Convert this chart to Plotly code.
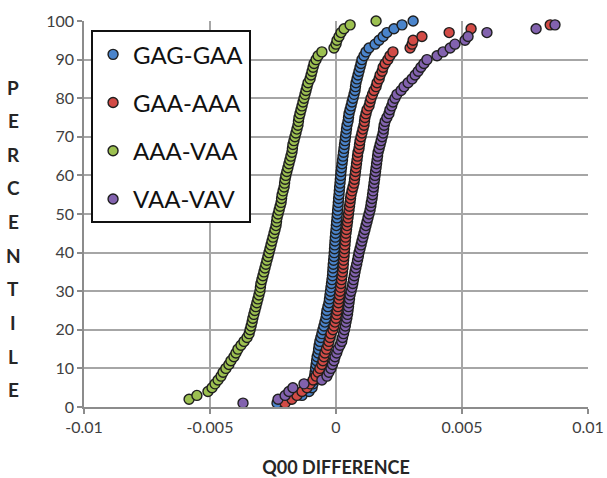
import plotly.graph_objects as go

# Q00 difference at each percentile rank, one list per pair
gag_gaa = [-0.00234, -0.00183, -0.00135, -0.00107, -0.00095, -0.00091, -0.00087, -0.00085, -0.00083, -0.00081,
           -0.00079, -0.00077, -0.00075, -0.00071, -0.00069, -0.00067, -0.00064, -0.00060, -0.00056, -0.00052,
           -0.00048, -0.00044, -0.00040, -0.00038, -0.00036, -0.00032, -0.00028, -0.00026, -0.00024, -0.00022,
           -0.00020, -0.00018, -0.00016, -0.00014, -0.00013, -0.00012, -0.00011, -0.000095, -0.00008, -0.00007,
           -0.00006, -0.00005, -0.00004, -0.000028, -0.000016, 0.0, 0.000012, 0.000024, 0.00004, 0.000052,
           0.000064, 0.00008, 0.000091, 0.000103, 0.000119, 0.000131, 0.000143, 0.000159, 0.000171, 0.000187,
           0.000199, 0.000218, 0.000238, 0.000258, 0.000278, 0.000298, 0.000318, 0.000337, 0.000357, 0.000377,
           0.000397, 0.000417, 0.000437, 0.000476, 0.000496, 0.000516, 0.000556, 0.000596, 0.000635, 0.000675,
           0.000715, 0.000754, 0.000774, 0.000794, 0.000834, 0.000873, 0.000913, 0.000953, 0.000993, 0.00103,
           0.00111, 0.00119, 0.00131, 0.00155, 0.00171, 0.00187, 0.00202, 0.00230, 0.00262, 0.00306]

gaa_aaa = [-0.00202, -0.00175, -0.00155, -0.00135, -0.00115, -0.00103, -0.00091, -0.00079, -0.00071, -0.00064,
           -0.00056, -0.00052, -0.00048, -0.00044, -0.00038, -0.00032, -0.00028, -0.00024, -0.00020, -0.00012,
           -0.00008, -0.00004, 0.0, 0.000028, 0.000052, 0.000079, 0.000099, 0.000119, 0.000139, 0.000159,
           0.000179, 0.000199, 0.000218, 0.000238, 0.000258, 0.000278, 0.00029, 0.000302, 0.000318, 0.00033,
           0.000341, 0.000357, 0.000369, 0.000381, 0.000397, 0.000417, 0.000437, 0.000457, 0.000476, 0.000496,
           0.000516, 0.000536, 0.000556, 0.000576, 0.000596, 0.000635, 0.000675, 0.000715, 0.000734, 0.000754,
           0.000774, 0.000794, 0.000814, 0.000834, 0.000854, 0.000873, 0.000913, 0.000933, 0.000953, 0.000993,
           0.00103, 0.00107, 0.00111, 0.00113, 0.00115, 0.00119, 0.00123, 0.00131, 0.00135, 0.00139,
           0.00145, 0.00151, 0.00159, 0.00163, 0.00171, 0.00175, 0.00183, 0.00187, 0.00195, 0.00206,
           0.00214, 0.00226, 0.00294, 0.00302, 0.00306, 0.00341, 0.00449, 0.00536, 0.00850]

aaa_vaa = [-0.00583, -0.00552, -0.00508, -0.00492, -0.00480, -0.00468, -0.00456, -0.00448, -0.00437, -0.00425,
           -0.00417, -0.00405, -0.00397, -0.00389, -0.00377, -0.00365, -0.00353, -0.00345, -0.00341, -0.00337,
           -0.00333, -0.00330, -0.00326, -0.00322, -0.00318, -0.00314, -0.00310, -0.00306, -0.00302, -0.00300,
           -0.00298, -0.00294, -0.00290, -0.00286, -0.00282, -0.00278, -0.00274, -0.00270, -0.00266, -0.00262,
           -0.00258, -0.00254, -0.00250, -0.00246, -0.00242, -0.00238, -0.00236, -0.00234, -0.00230, -0.00226,
           -0.00222, -0.00218, -0.00216, -0.00214, -0.00210, -0.00206, -0.00204, -0.00202, -0.00199, -0.00195,
           -0.00191, -0.00187, -0.00183, -0.00179, -0.00175, -0.00173, -0.00171, -0.00167, -0.00163, -0.00159,
           -0.00155, -0.00151, -0.00149, -0.00147, -0.00143, -0.00139, -0.00135, -0.00131, -0.00127, -0.00123,
           -0.00119, -0.00115, -0.00111, -0.00103, -0.00099, -0.00095, -0.00091, -0.00087, -0.00079, -0.00071,
           -0.00056, -0.00008, 0.00000, 0.00004, 0.00012, 0.00020, 0.00032, 0.00056, 0.00159]

vaa_vav = [-0.00369, -0.00230, -0.00202, -0.00187, -0.00171, -0.00127, -0.00056, -0.00036, -0.00028, -0.00020,
           -0.00014, -0.00008, -0.00004, 0.000028, 0.000079, 0.000159, 0.000226, 0.000258, 0.000298, 0.000337,
           0.000369, 0.000397, 0.000429, 0.000457, 0.000476, 0.000496, 0.000516, 0.000536, 0.000556, 0.000596,
           0.000635, 0.000667, 0.000695, 0.000727, 0.000754, 0.000786, 0.000822, 0.000854, 0.000885, 0.000913,
           0.000953, 0.000993, 0.00103, 0.00107, 0.00111, 0.00115, 0.00119, 0.00123, 0.00127, 0.00131,
           0.00135, 0.00138, 0.00140, 0.00143, 0.00145, 0.00147, 0.00149, 0.00151, 0.00153, 0.00155,
           0.00157, 0.00159, 0.00161, 0.00163, 0.00165, 0.00167, 0.00171, 0.00175, 0.00179, 0.00183,
           0.00187, 0.00189, 0.00191, 0.00195, 0.00202, 0.00210, 0.00214, 0.00221, 0.00226, 0.00234,
           0.00242, 0.00258, 0.00270, 0.00286, 0.00302, 0.00314, 0.00326, 0.00337, 0.00349, 0.00361,
           0.00401, 0.00425, 0.00453, 0.00472, 0.00512, 0.00524, 0.00599, 0.00794, 0.00869]

# first percentile rank of each list (ranks step by one)
series = [
    ("GAG-GAA", gag_gaa, 1, "#4A84CB"),
    ("GAA-AAA", gaa_aaa, 1, "#D24B46"),
    ("AAA-VAA", aaa_vaa, 2, "#9CC050"),
    ("VAA-VAV", vaa_vav, 1, "#8262AE"),
]

x_ticks = [-0.01, -0.005, 0, 0.005, 0.01]
x_tick_labels = ["-0.01", "-0.005", "0", "0.005", "0.01"]
y_ticks = [0, 10, 20, 30, 40, 50, 60, 70, 80, 90, 100]
y_title = "PERCENTILE"

FONT = "Lato, 'Open Sans', Arial, sans-serif"

fig = go.Figure()
for i, (name, xs, first, color) in enumerate(series):
    fig.add_trace(go.Scatter(
        x=xs,
        y=list(range(first, first + len(xs))),
        mode="markers",
        name=name,
        legendgroup=name,
        cliponaxis=False,
        marker=dict(size=10, color=color, line=dict(color="#1f1f1f", width=1.4)),
    ))

fig.update_layout(
    width=607, height=478,
    margin=dict(l=84, r=19, t=21, b=71),
    paper_bgcolor="white", plot_bgcolor="white",
    font=dict(family=FONT, color="#404040", size=16),
    showlegend=True,
    legend=dict(
        x=0.014, y=0.976, xanchor="left", yanchor="top",
        bgcolor="white", bordercolor="#111111", borderwidth=2,
        font=dict(family=FONT, size=24, color="#111111"),
        tracegroupgap=14, itemsizing="trace",
    ),
    xaxis=dict(
        range=[-0.01, 0.01], tickvals=x_ticks, ticktext=x_tick_labels,
        automargin=False,
        showgrid=True, gridcolor="#A6A6A6", gridwidth=1.5,
        zeroline=False, showline=True, linecolor="#8C8C8C", linewidth=1.5,
        ticks="outside", ticklen=5, tickcolor="#8C8C8C", tickwidth=1.5,
        tickfont=dict(size=16, color="#404040"),
        title=dict(text="<b>Q00 DIFFERENCE</b>", font=dict(size=18, color="#262626"), standoff=26),
    ),
    yaxis=dict(
        range=[0, 100], tickvals=y_ticks,
        automargin=False,
        showgrid=True, gridcolor="#A6A6A6", gridwidth=1.5,
        zeroline=False, showline=True, linecolor="#8C8C8C", linewidth=1.5,
        ticks="outside", ticklen=5, tickcolor="#8C8C8C", tickwidth=1.5,
        tickfont=dict(size=16, color="#404040"),
    ),
)

# vertical axis title, one letter per line
n = len(y_title)
for k, ch in enumerate(y_title):
    fig.add_annotation(
        text=f"<b>{ch}</b>", xref="paper", yref="paper",
        x=-0.14, y=0.829 - k * (0.829 - 0.045) / (n - 1),
        xanchor="center", yanchor="middle", showarrow=False,
        font=dict(family=FONT, size=19, color="#262626"),
    )

fig.write_html("out.html")
